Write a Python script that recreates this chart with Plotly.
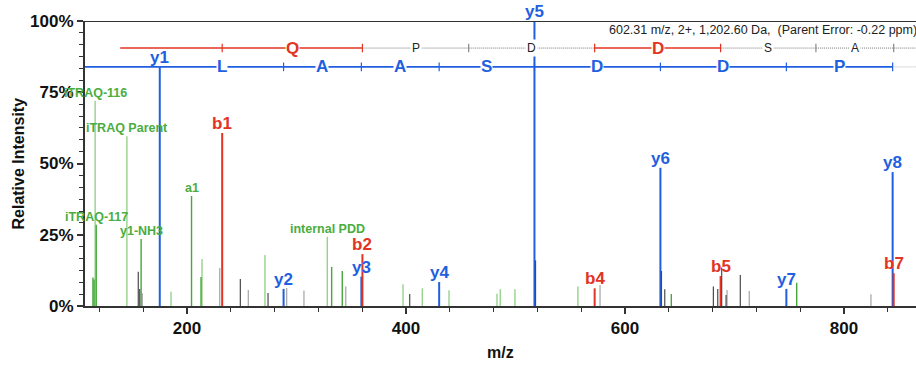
import plotly.graph_objects as go

# ---------------- data ----------------
y_mz = [175.12, 288.20, 359.24, 430.28, 517.31, 632.34, 747.36, 844.42]
y_int = [84.0, 6.0, 10.3, 8.4, 100.0, 48.5, 6.0, 47.0]
y_lab = ["y1", "y2", "y3", "y4", "y5", "y6", "y7", "y8"]

b_mz = [232.14, 360.20, 572.28, 687.31, 845.38]
b_int = [60.7, 18.2, 6.2, 10.5, 11.5]
b_lab = ["b1", "b2", "b4", "b5", "b7"]

other_mz = [116.11, 117.11, 145.11, 158.09, 204.14, 328.11]
other_int = [72.0, 28.5, 59.6, 23.5, 38.6, 24.3]
other_lab = ["iTRAQ-116", "iTRAQ-117", "iTRAQ Parent", "y1-NH3", "a1", "internal PDD"]

green_dark_mz = [114.11, 115.11, 117.11, 158.09, 204.14, 212.8, 332.1, 341.8, 642.3, 756.8]
green_dark_int = [10.0, 9.3, 28.5, 23.5, 38.6, 10.2, 13.7, 12.3, 4.2, 8.2]
green_light_mz = [116.11, 145.11, 185.4, 213.7, 271.2, 328.11, 397.3, 414.9, 439.3, 483.1, 486.1, 499.5, 557.0]
green_light_int = [72.0, 59.6, 5.0, 16.5, 17.9, 24.3, 7.6, 6.2, 5.5, 4.3, 5.9, 5.9, 6.8]

gray_dark_mz = [155.5, 156.8, 248.7, 274.0, 403.4, 518.3, 633.3, 636.3, 680.7, 684.7, 688.3, 692.3, 705.3]
gray_dark_int = [12.0, 6.0, 9.5, 4.6, 4.2, 16.0, 12.3, 5.9, 6.8, 6.0, 13.5, 3.9, 10.9]
gray_light_mz = [159.2, 229.9, 256.0, 291.0, 306.8, 345.0, 577.2, 693.2, 713.5, 824.6]
gray_light_int = [4.5, 13.3, 5.6, 6.3, 5.4, 6.8, 7.4, 5.6, 5.3, 4.1]

# fragment ladders
b_ladder_mz = [139.0, 232.14, 360.20, 457.25, 572.28, 687.31, 774.34, 845.38]
b_ladder_res = ["", "Q", "P", "D", "D", "S", "A"]
b_ladder_seen = [True, True, False, False, True, False, False]
b_tick_seen = [None, True, True, False, True, True, False, False]

y_ladder_mz = [175.12, 288.20, 359.24, 430.28, 517.31, 632.34, 747.36, 844.42]
y_ladder_res = ["L", "A", "A", "S", "D", "D", "P"]

x_ticks = [200, 400, 600, 800]
y_ticks = [0, 25, 50, 75, 100]
y_tick_text = ["0%", "25%", "50%", "75%", "100%"]
x_range = [106.85, 865.75]

parent_text = "602.31 m/z, 2+, 1,202.60 Da,  (Parent Error: -0.22 ppm)"

# ---------------- style ----------------
BLUE = "#1f5fe0"
RED = "#e33322"
GREEN_D = "#45a83a"
GREEN_L = "#95d38b"
GREEN_T = "#4aad3e"
GRAY_D = "#4a4a4a"
GRAY_L = "#ababab"
FONT = "Liberation Sans, Arial, sans-serif"
RED_Y = 90.5
BLUE_Y = 83.9
TK = 1.5


def sticks(xs, ys):
    px, py = [], []
    for x, y in zip(xs, ys):
        px += [x, x, None]
        py += [0, y, None]
    return px, py


fig = go.Figure()


def add_sticks(xs, ys, color, width):
    px, py = sticks(xs, ys)
    fig.add_trace(go.Scatter(x=px, y=py, mode="lines", line=dict(color=color, width=width),
                             hoverinfo="skip", showlegend=False, cliponaxis=False))


add_sticks(gray_light_mz, gray_light_int, GRAY_L, 1.3)
add_sticks(green_light_mz, green_light_int, GREEN_L, 1.4)
add_sticks(green_dark_mz, green_dark_int, GREEN_D, 1.4)
add_sticks(y_mz, y_int, BLUE, 2)
add_sticks(b_mz, b_int, RED, 2)
add_sticks(gray_dark_mz, gray_dark_int, GRAY_D, 1.2)


def seg(x0, x1, y, color, width, dash="solid"):
    fig.add_trace(go.Scatter(x=[x0, x1], y=[y, y], mode="lines",
                             line=dict(color=color, width=width, dash=dash),
                             hoverinfo="skip", showlegend=False))


def tick(x, y, color):
    fig.add_trace(go.Scatter(x=[x, x], y=[y - TK, y + TK], mode="lines",
                             line=dict(color=color, width=1.2),
                             hoverinfo="skip", showlegend=False))


annotations = []

# b ladder (red)
for i in range(len(b_ladder_mz) - 1):
    x0, x1 = b_ladder_mz[i], b_ladder_mz[i + 1]
    if b_ladder_seen[i]:
        seg(x0, x1, RED_Y, RED, 1.6)
    else:
        seg(x0, x1, RED_Y, "#555555", 0.8, "1px,1px")
    r = b_ladder_res[i]
    if r:
        if b_ladder_seen[i]:
            annotations.append(dict(x=(x0 + x1) / 2, y=RED_Y, text="<b>%s</b>" % r, showarrow=False,
                                    font=dict(color=RED, size=17, family=FONT), bgcolor="white",
                                    borderpad=0, xanchor="center", yanchor="middle"))
        else:
            annotations.append(dict(x=(x0 + x1) / 2, y=RED_Y, text=r, showarrow=False,
                                    font=dict(color="#222", size=12, family=FONT), bgcolor="white",
                                    borderpad=1, xanchor="center", yanchor="middle"))
seg(b_ladder_mz[-1], x_range[1], RED_Y, "#555555", 0.8, "1px,1px")
for i in range(1, len(b_ladder_mz)):
    tick(b_ladder_mz[i], RED_Y, RED if b_tick_seen[i] else "#888888")

# y ladder (blue)
seg(x_range[0], y_ladder_mz[0], BLUE_Y, BLUE, 1.6)
for i in range(len(y_ladder_mz) - 1):
    x0, x1 = y_ladder_mz[i], y_ladder_mz[i + 1]
    seg(x0, x1, BLUE_Y, BLUE, 1.6)
    annotations.append(dict(x=(x0 + x1) / 2, y=BLUE_Y, text="<b>%s</b>" % y_ladder_res[i], showarrow=False,
                            font=dict(color=BLUE, size=17, family=FONT), bgcolor="white",
                            borderpad=0, xanchor="center", yanchor="middle"))
seg(y_ladder_mz[-1], x_range[1], BLUE_Y, "#aaaaaa", 0.8, "1px,1px")
for i in range(1, len(y_ladder_mz)):
    tick(y_ladder_mz[i], BLUE_Y, BLUE)

# peak labels
for x, y, t in zip(y_mz, y_int, y_lab):
    annotations.append(dict(x=x, y=y, text="<b>%s</b>" % t, showarrow=False, yanchor="bottom",
                            yshift=-2, font=dict(color=BLUE, size=17, family=FONT)))
for x, y, t in zip(b_mz, b_int, b_lab):
    annotations.append(dict(x=x, y=y, text="<b>%s</b>" % t, showarrow=False, yanchor="bottom",
                            yshift=-2, font=dict(color=RED, size=17, family=FONT)))
for x, y, t in zip(other_mz, other_int, other_lab):
    annotations.append(dict(x=x, y=y, text="<b>%s</b>" % t, showarrow=False, yanchor="bottom",
                            yshift=-1, font=dict(color=GREEN_T, size=12.5, family=FONT)))

# parent info
annotations.append(dict(x=1.004, xref="paper", y=96.8, text=parent_text, showarrow=False,
                        xanchor="right", yanchor="middle", font=dict(color="#222", size=12.5, family=FONT)))
# axis titles
annotations.append(dict(x=-67 / 831, xref="paper", y=0.5, yref="paper", text="<b>Relative Intensity</b>",
                        textangle=-90, showarrow=False, xanchor="center", yanchor="middle",
                        font=dict(color="#111", size=16, family=FONT)))
annotations.append(dict(x=0.5, xref="paper", y=-46 / 285, yref="paper", text="<b>m/z</b>",
                        showarrow=False, xanchor="center", yanchor="middle",
                        font=dict(color="#111", size=16, family=FONT)))

fig.update_layout(
    width=916, height=370,
    margin=dict(l=85, r=0, t=21, b=64),
    plot_bgcolor="white", paper_bgcolor="white",
    annotations=annotations,
    shapes=[dict(type="line", xref="paper", yref="y", x0=0, x1=1, y0=100, y1=100,
                 line=dict(color="#333", width=2))],
    xaxis=dict(range=x_range, showgrid=False, zeroline=False, showline=True, linecolor="#333",
               linewidth=2, ticks="outside", ticklen=6, tickcolor="#333", tickwidth=1.5,
               tickvals=x_ticks, tickfont=dict(size=17, family=FONT, color="#111", weight="bold"),
               minor=dict(dtick=40, tick0=0, ticks="outside", ticklen=4, tickcolor="#333", tickwidth=1.2)),
    yaxis=dict(range=[0, 100], showgrid=False, zeroline=False, showline=True, linecolor="#333",
               linewidth=2, ticks="outside", ticklen=6, tickcolor="#333", tickwidth=1.5,
               tickvals=y_ticks, ticktext=y_tick_text,
               tickfont=dict(size=17, family=FONT, color="#111", weight="bold"),
               minor=dict(dtick=25 / 6, tick0=0, ticks="outside", ticklen=4, tickcolor="#333", tickwidth=1.2)),
)

fig.write_html("out.html")
